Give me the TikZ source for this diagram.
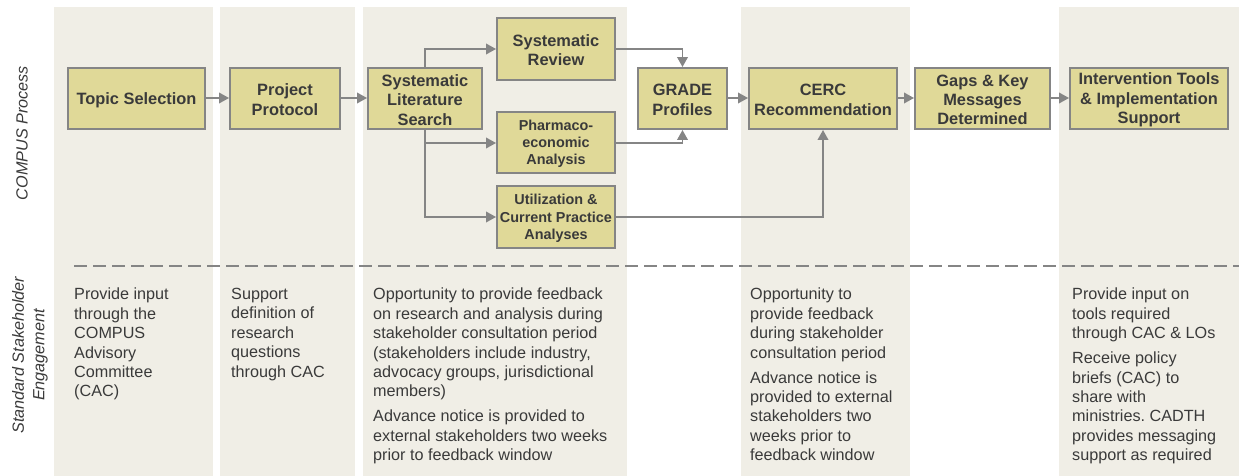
\documentclass[tikz,border=0pt]{standalone}
\usepackage{fontspec}
\setmainfont{Liberation Sans}
\usetikzlibrary{arrows.meta}
\definecolor{panelc}{HTML}{F0EEE6}
\definecolor{boxc}{HTML}{E0D998}
\definecolor{linec}{HTML}{858585}
\definecolor{textc}{HTML}{3A3A3A}
\frenchspacing
\tikzset{
  panel/.style={fill=panelc,draw=none},
  procbox/.style={draw=linec,line width=1.9pt,fill=boxc,minimum height=61pt,inner sep=0pt},
  biglab/.style={align=center,inner sep=0pt,yshift=-1.3pt,text=textc,font=\fontsize{16.4}{19.4}\selectfont\bfseries},
  smalllab/.style={biglab,font=\fontsize{14.4}{17.4}\selectfont\bfseries},
  bigtxt/.style={label={[biglab]center:{#1}}},
  smalltxt/.style={label={[smalllab]center:{#1}}},
  conn/.style={draw=linec,line width=1.9pt,-{Triangle[length=10pt,width=10.5pt]}},
  dashline/.style={draw=linec,line width=2pt,dash pattern=on 12.5pt off 6.5pt},
  bodytxt/.style={anchor=north west,align=left,inner sep=0pt,font=\fontsize{16.2}{19.4}\selectfont,text=textc},
  sidetxt/.style={rotate=90,align=center,font=\fontsize{16.2}{20.5}\selectfont\itshape,text=textc,inner sep=0pt}
}
\begin{document}
\begin{tikzpicture}[x=1pt,y=-1pt]
\useasboundingbox (0,0) rectangle (1239,476);
\fill[panel] (54,7) rectangle (213,476);
\fill[panel] (220,7) rectangle (355,476);
\fill[panel] (363,7) rectangle (627,476);
\fill[panel] (741,7) rectangle (910,476);
\fill[panel] (1059,7) rectangle (1239,476);

\node[procbox,minimum width=137pt,bigtxt={Topic Selection}] (topic) at (136.5,98.5) {};
\node[procbox,minimum width=110pt,bigtxt={Project\\Protocol}] (proto) at (285,98.5) {};
\node[procbox,minimum width=114pt,bigtxt={Systematic\\Literature\\Search}] (sls) at (425,98.5) {};
\node[procbox,minimum width=118pt,minimum height=62pt,bigtxt={Systematic\\Review}] (sr) at (556,49) {};
\node[procbox,minimum width=118pt,smalltxt={Pharmaco-\\economic\\Analysis}] (pe) at (556,142.5) {};
\node[procbox,minimum width=118pt,minimum height=62pt,smalltxt={Utilization \&\\Current Practice\\Analyses}] (ut) at (556,217) {};
\node[procbox,minimum width=89pt,bigtxt={GRADE\\Profiles}] (grade) at (682.5,98.5) {};
\node[procbox,minimum width=148pt,bigtxt={CERC\\Recommendation}] (cerc) at (823,98.5) {};
\node[procbox,minimum width=135pt,bigtxt={Gaps \& Key\\Messages\\Determined}] (gaps) at (982.5,98.5) {};
\node[procbox,minimum width=158pt,bigtxt={Intervention Tools\\\& Implementation\\Support}] (tools) at (1149,98.5) {};

\draw[conn] ([yshift=.5pt]topic.east) -- ([yshift=.5pt]proto.west);
\draw[conn] ([yshift=.5pt]proto.east) -- ([yshift=.5pt]sls.west);
\draw[conn] (sls.north) |- (sr.west);
\draw[conn] (sls.south) |- ([yshift=-.5pt]pe.west);
\draw[conn] (sls.south) |- (ut.west);
\draw[conn] (sr.east) -| (grade.north);
\draw[conn] ([yshift=-.5pt]pe.east) -| (grade.south);
\draw[conn] (ut.east) -| (cerc.south);
\draw[conn] ([yshift=.5pt]grade.east) -- ([yshift=.5pt]cerc.west);
\draw[conn] ([yshift=.5pt]cerc.east) -- ([yshift=.5pt]gaps.west);
\draw[conn] ([yshift=.5pt]gaps.east) -- ([yshift=.5pt]tools.west);

\coordinate (dashl) at (74,265.5);
\coordinate (dashr) at (1239,265.5);
\draw[dashline] (dashl) -- (dashr);

\node[sidetxt] (s1) at (22,133) {COMPUS Process};
\node[sidetxt] (s2) at (30,355) {Standard Stakeholder\\Engagement};

\node[bodytxt] (b1) at (74,288) {Provide input\\through the\\COMPUS\\Advisory\\Committee\\(CAC)};
\node[bodytxt] (b2) at (231,288) {Support\\definition of\\research\\questions\\through CAC};
\node[bodytxt] (b3) at (373,288) {Opportunity to provide feedback\\on research and analysis during\\stakeholder consultation period\\(stakeholders include industry,\\advocacy groups, jurisdictional\\members)\\[5.6pt]Advance notice is provided to\\external stakeholders two weeks\\prior to feedback window};
\node[bodytxt] (b4) at (750,288) {Opportunity to\\provide feedback\\during stakeholder\\consultation period\\[5.6pt]Advance notice is\\provided to external\\stakeholders two\\weeks prior to\\feedback window};
\node[bodytxt] (b5) at (1072,288) {Provide input on\\tools required\\through CAC \& LOs\\[5.6pt]Receive policy\\briefs (CAC) to\\share with\\ministries. CADTH\\provides messaging\\support as required};
\end{tikzpicture}
\end{document}
